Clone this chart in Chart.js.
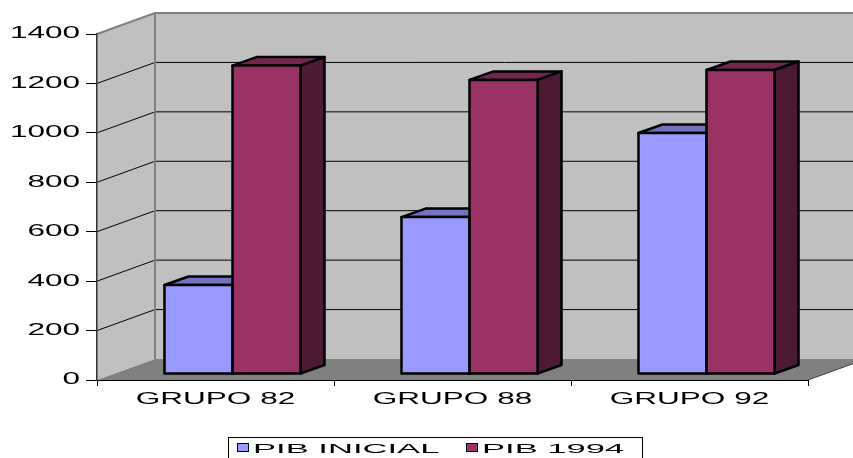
<!DOCTYPE html>
<html>
<head>
<meta charset="utf-8">
<script src="https://cdn.jsdelivr.net/npm/chart.js@4.4.1/dist/chart.umd.min.js"></script>
<style>
  html, body { margin: 0; padding: 0; background: #fff; }
  #grafico { display: block; }
</style>
</head>
<body>
<canvas id="grafico" width="853" height="458"></canvas>
<script>
const grupos = ["GRUPO 82", "GRUPO 88", "GRUPO 92"];
const series = ["PIB INICIAL", "PIB 1994"];
const pibInicial = [360, 635, 975];
const pib1994 = [1248, 1190, 1230];
const valoresEje = [0, 200, 400, 600, 800, 1000, 1200, 1400];

const FONT = '"Liberation Sans", Arial, sans-serif';
// wide lettering: horizontal stretch per font size
const ancho = { 16: 1.97, 13: 2.66 };

// 3d offsets
const PARED = { dx: 58, dy: -21 }; // back wall
const BARRA = { dx: 17, dy: -6 }; // plane where the bars stand
const FONDO = { dx: 24, dy: -8.5 }; // depth of each bar

function sombra(hex, f) {
  const n = parseInt(hex.slice(1), 16);
  const c = [n >> 16, (n >> 8) & 255, n & 255].map((v) => Math.round(v * f));
  return `rgb(${c.join(",")})`;
}

function poligono(ctx, pts, fill) {
  ctx.beginPath();
  pts.forEach(([x, y], i) => (i ? ctx.lineTo(x, y) : ctx.moveTo(x, y)));
  ctx.closePath();
  if (fill) {
    ctx.fillStyle = fill;
    ctx.fill();
  }
}

const textoAncho = {
  id: "textoAncho",
  beforeInit(chart) {
    const ctx = chart.ctx;
    const fill = ctx.fillText;
    const measure = ctx.measureText;
    const factor = () => {
      const m = /(\d+)px/.exec(ctx.font);
      return (m && ancho[m[1]]) || 1;
    };
    ctx.fillText = function (t, x, y) {
      const f = factor();
      this.save();
      this.translate(x, y);
      this.scale(f, 1);
      fill.call(this, t, 0, 0);
      this.restore();
    };
    ctx.measureText = function (t) {
      const m = measure.call(this, t);
      return {
        width: m.width * factor(),
        actualBoundingBoxAscent: m.actualBoundingBoxAscent,
        actualBoundingBoxDescent: m.actualBoundingBoxDescent,
      };
    };
  },
};

const caja3d = {
  id: "caja3d",
  beforeDraw(chart) {
    const { ctx, chartArea: a } = chart;
    const y = chart.scales.y;
    const y0 = y.getPixelForValue(0);
    const yMax = y.getPixelForValue(valoresEje[valoresEje.length - 1]);
    const bx = a.left + PARED.dx;
    const rx = a.right + PARED.dx;

    ctx.save();
    poligono(ctx, [[a.left, y0], [a.left, yMax], [bx, yMax + PARED.dy], [bx, y0 + PARED.dy]], "#c0c0c0");
    poligono(ctx, [[bx, yMax + PARED.dy], [rx, yMax + PARED.dy], [rx, y0 + PARED.dy], [bx, y0 + PARED.dy]], "#c0c0c0");
    poligono(ctx, [[a.left, y0], [a.right, y0], [rx, y0 + PARED.dy], [bx, y0 + PARED.dy]], "#808080");

    // grid on side and back walls
    ctx.strokeStyle = "#000";
    ctx.lineWidth = 1;
    valoresEje.slice(1, -1).forEach((v) => {
      const py = y.getPixelForValue(v);
      ctx.beginPath();
      ctx.moveTo(a.left, py);
      ctx.lineTo(bx, py + PARED.dy);
      ctx.lineTo(rx, py + PARED.dy);
      ctx.stroke();
    });

    // wall edges
    ctx.strokeStyle = "#808080";
    ctx.lineWidth = 2;
    ctx.beginPath();
    ctx.moveTo(a.left, yMax);
    ctx.lineTo(bx, yMax + PARED.dy);
    ctx.lineTo(rx, yMax + PARED.dy);
    ctx.moveTo(bx, yMax + PARED.dy);
    ctx.lineTo(bx, y0 + PARED.dy);
    ctx.stroke();

    ctx.strokeStyle = "#404040";
    ctx.lineWidth = 1;
    ctx.beginPath();
    ctx.moveTo(a.right, y0);
    ctx.lineTo(rx, y0 + PARED.dy);
    ctx.stroke();
    ctx.restore();
  },

  beforeDatasetsDraw(chart) {
    const ctx = chart.ctx;
    ctx.save();
    ctx.translate(BARRA.dx, BARRA.dy);
    ctx.strokeStyle = "#000";
    ctx.lineWidth = 2.5;
    ctx.lineJoin = "round";
    // top and side faces, left to right, before the fronts
    chart.data.datasets.forEach((ds, i) => {
      chart.getDatasetMeta(i).data.forEach((bar) => {
        const { x, y, base, width } = bar.getProps(["x", "y", "base", "width"], true);
        const l = x - width / 2;
        const r = x + width / 2;
        poligono(ctx, [[l, y], [r, y], [r + FONDO.dx, y + FONDO.dy], [l + FONDO.dx, y + FONDO.dy]], sombra(ds.backgroundColor, 0.75));
        ctx.stroke();
        poligono(ctx, [[r, y], [r + FONDO.dx, y + FONDO.dy], [r + FONDO.dx, base + FONDO.dy], [r, base]], sombra(ds.backgroundColor, 0.5));
        ctx.stroke();
      });
    });
  },

  afterDatasetsDraw(chart) {
    const ctx = chart.ctx;
    chart.data.datasets.forEach((ds, i) => {
      chart.getDatasetMeta(i).data.forEach((bar) => {
        const { x, y, base, width } = bar.getProps(["x", "y", "base", "width"], true);
        ctx.strokeRect(x - width / 2, y, width, base - y);
      });
    });
    ctx.restore();
  },

  afterDraw(chart) {
    const ctx = chart.ctx;
    ctx.save();
    ctx.strokeStyle = "#000";
    ctx.lineWidth = 1;
    ctx.strokeRect(228.5, 437.5, 414, 40);
    ctx.font = `13px ${FONT}`;
    ctx.textBaseline = "alphabetic";
    const xs = [237, 466];
    chart.data.datasets.forEach((ds, i) => {
      ctx.fillStyle = ds.backgroundColor;
      ctx.fillRect(xs[i], 443, 12, 9);
      ctx.strokeRect(xs[i] + 0.5, 443.5, 11, 8);
      ctx.fillStyle = "#000";
      ctx.fillText(ds.label, xs[i] + 16, 452.5);
    });
    ctx.restore();
  },
};

new Chart(document.getElementById("grafico"), {
  type: "bar",
  data: {
    labels: grupos,
    datasets: [
      { label: series[0], data: pibInicial, backgroundColor: "#9999ff" },
      { label: series[1], data: pib1994, backgroundColor: "#993366" },
    ],
  },
  options: {
    responsive: false,
    animation: false,
    devicePixelRatio: 1,
    datasets: {
      bar: { categoryPercentage: 0.574, barPercentage: 1, borderWidth: 0, clip: false },
    },
    layout: { padding: { top: 34, right: 45, bottom: 0, left: 0 } },
    plugins: { legend: { display: false }, tooltip: { enabled: false } },
    scales: {
      x: {
        offset: true,
        grid: { offset: true, drawOnChartArea: false, tickLength: 6, color: "#000" },
        border: { color: "#000", width: 1 },
        ticks: {
          color: "#000",
          font: { family: FONT, size: 16 },
          padding: 4,
          maxRotation: 0,
          autoSkip: false,
        },
        afterFit: (s) => {
          s.height = 78;
        },
      },
      y: {
        min: 0,
        max: 1400,
        afterBuildTicks: (s) => {
          s.ticks = valoresEje.map((v) => ({ value: v }));
        },
        grid: { drawOnChartArea: false, tickLength: 11, color: "#000" },
        border: { color: "#333", width: 1.5 },
        ticks: {
          color: "#000",
          font: { family: FONT, size: 16 },
          padding: 6,
          callback: (v) => String(v),
        },
        afterFit: (s) => {
          s.width = 97;
        },
      },
    },
  },
  plugins: [textoAncho, caja3d],
});
</script>
</body>
</html>
